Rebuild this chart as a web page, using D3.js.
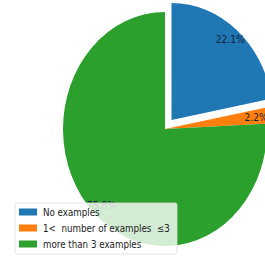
<!DOCTYPE html>
<html lang="en">
<head>
<meta charset="UTF-8">
<title>Examples pie</title>
<script src="https://d3js.org/d3.v7.min.js"></script>
<style>
  body { margin: 0; background: #fff; }
  svg { display: block; }
  .pct { font-family: 'DejaVu Sans', sans-serif; font-size: 10.5px; fill: #14213d; }
  .legend text { font-family: 'DejaVu Sans', sans-serif; font-size: 10px; fill: #222; white-space: pre; }
</style>
</head>
<body>
<div id="chart"></div>
<script>
// data
const categories = ["No examples", "1<  number of examples  \u22643", "more than 3 examples"];
const values = [22.1, 2.2, 75.8];
const explode = [0.1, 0, 0];
const colors = ["#1f77b4", "#ff7f0e", "#2ca02c"];

const W = 265, H = 260;
const cx = 165, cy = 129, rx = 102, ry = 117;
const squeeze = rx / ry;   // the picture looks squashed sideways
const pctDist = 0.9;

const svg = d3.select("#chart").append("svg")
    .attr("width", W)
    .attr("height", H);

const pie = d3.pie().sort(null).value(d => d)(values);
const arc = d3.arc().innerRadius(0).outerRadius(1);

// wedges drawn in unit circle, stretched to an ellipse
const g = svg.append("g")
    .attr("transform", `translate(${cx},${cy}) scale(${rx},${ry})`);

g.selectAll("path")
    .data(pie)
    .enter()
    .append("path")
    .attr("d", arc)
    .attr("fill", (d, i) => colors[i])
    .attr("transform", (d, i) => {
        const a = (d.startAngle + d.endAngle) / 2;
        return `translate(${explode[i] * Math.sin(a)},${-explode[i] * Math.cos(a)})`;
    });

// percentage labels
svg.selectAll(".pct")
    .data(pie)
    .enter()
    .append("text")
    .attr("class", "pct")
    .attr("text-anchor", "middle")
    .attr("dominant-baseline", "central")
    .attr("transform", (d, i) => {
        const a = (d.startAngle + d.endAngle) / 2;
        const x = cx + (pctDist + explode[i]) * rx * Math.sin(a);
        const y = cy - (pctDist + explode[i]) * ry * Math.cos(a);
        return `translate(${x},${y}) scale(${squeeze},1)`;
    })
    .text(d => d.data.toFixed(1) + "%");

// legend
const legend = svg.append("g")
    .attr("class", "legend")
    .attr("transform", "translate(15,203)");

legend.append("rect")
    .attr("width", 162)
    .attr("height", 51)
    .attr("rx", 2)
    .attr("fill", "rgba(255,255,255,0.8)")
    .attr("stroke", "#ddd")
    .attr("stroke-width", 0.8);

const rows = legend.selectAll(".row")
    .data(categories)
    .enter()
    .append("g")
    .attr("class", "row")
    .attr("transform", (d, i) => `translate(4,${9 + i * 16})`);

rows.append("rect")
    .attr("x", 0)
    .attr("y", -3.5)
    .attr("width", 18)
    .attr("height", 7)
    .attr("fill", (d, i) => colors[i]);

rows.append("text")
    .attr("transform", `translate(24,0) scale(${squeeze},1)`)
    .attr("dy", "0.35em")
    .text(d => d);
</script>
</body>
</html>
